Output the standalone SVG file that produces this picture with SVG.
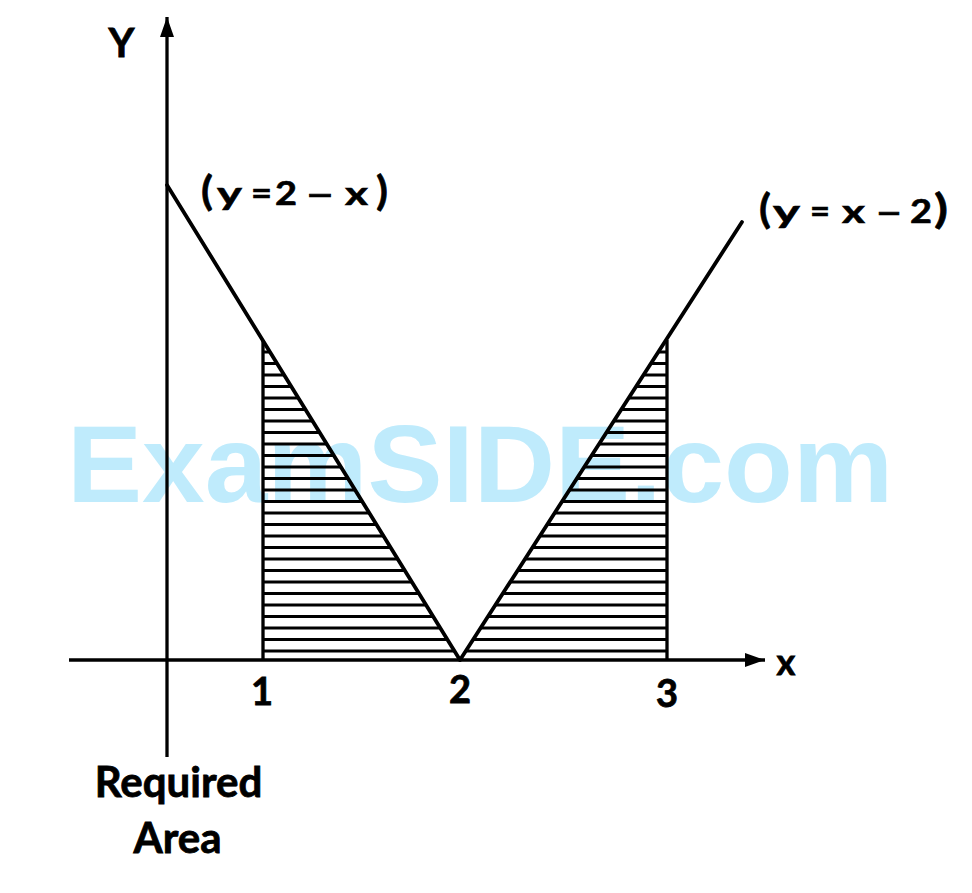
<svg xmlns="http://www.w3.org/2000/svg" width="972" height="893" viewBox="0 0 972 893">
<style>
.lbl{font-family:"Lato","Open Sans","Liberation Sans",sans-serif;font-weight:bold;fill:#000;stroke:#000;stroke-width:0.8}
.eq{font-family:"Lato","Open Sans","Liberation Sans",sans-serif;font-weight:bold;fill:#000;stroke:#000;stroke-width:0.6;font-size:33px}
.par{font-size:41px}
.wm{font-family:"Liberation Sans","Arial",sans-serif;font-weight:bold;fill:#BFEBFC}
.ax{stroke:#000;stroke-width:3.3;fill:none}
.ln{stroke:#000;stroke-width:3.8;fill:none;stroke-linecap:round}
.ht{stroke:#000;stroke-width:3;fill:none}
</style>
<defs>
<marker id="arr" markerWidth="22" markerHeight="14" refX="20" refY="7" orient="auto" markerUnits="userSpaceOnUse">
<path d="M0,0 L20,7 L0,14 Z" fill="#000"/>
</marker>
</defs>
<rect width="972" height="893" fill="#fff"/>
<text class="wm" x="67" y="502" font-size="109" textLength="826" lengthAdjust="spacingAndGlyphs">ExamSIDE.com</text>
<g id="connectors">
<line id="y-axis" class="ax" x1="167" y1="757" x2="167" y2="17" marker-end="url(#arr)"/>
<line id="x-axis" class="ax" x1="69" y1="660" x2="765" y2="660" marker-end="url(#arr)"/>
<line id="line-2-minus-x" class="ln" x1="167" y1="185" x2="460" y2="660"/>
<line id="line-x-minus-2" class="ln" x1="460" y1="660" x2="742" y2="222"/>
<line id="x1" class="ax" x1="263" y1="340" x2="263" y2="660"/>
<line id="x3" class="ax" x1="667" y1="340" x2="667" y2="660"/>
</g>
<g id="hatch-left">
<path class="ht" d="M263,352H270 M263,363.5H277.1 M263,375H284.2 M263,386.5H291.3 M263,398H298.4 M263,409.5H305.5 M263,421H312.6 M263,432.5H319.7 M263,444H326.8 M263,455.5H333.9 M263,467H340.9 M263,478.5H348 M263,490H355.1 M263,501.5H362.2 M263,513H369.3 M263,524.5H376.4 M263,536H383.5 M263,547.5H390.6 M263,559H397.7 M263,570.5H404.8 M263,582H411.9 M263,593.5H419 M263,605H426.1 M263,616.5H433.2 M263,628H440.3 M263,639.5H447.3 M263,651H454.4"/>
</g>
<g id="hatch-right">
<path class="ht" d="M659.2,352H667 M651.8,363.5H667 M644.4,375H667 M636.9,386.5H667 M629.5,398H667 M622,409.5H667 M614.6,421H667 M607.2,432.5H667 M599.7,444H667 M592.3,455.5H667 M584.9,467H667 M577.4,478.5H667 M570,490H667 M562.5,501.5H667 M555.1,513H667 M547.7,524.5H667 M540.2,536H667 M532.8,547.5H667 M525.3,559H667 M517.9,570.5H667 M510.5,582H667 M503,593.5H667 M495.6,605H667 M488.1,616.5H667 M480.7,628H667 M473.3,639.5H667 M465.8,651H667"/>
</g>
<g id="label-Y"><text class="lbl" x="121.5" y="57" font-size="40" text-anchor="middle">Y</text></g>
<g id="label-x"><text class="lbl" x="786" y="675" font-size="36" text-anchor="middle">x</text></g>
<g id="label-1"><text class="lbl" x="262" y="705" font-size="38" text-anchor="middle">1</text></g>
<g id="label-2"><text class="lbl" x="460" y="703" font-size="38" text-anchor="middle">2</text></g>
<g id="label-3"><text class="lbl" x="667" y="707" font-size="38" text-anchor="middle">3</text></g>
<g id="label-eq1">
<text class="eq par" x="201" y="205" textLength="12" lengthAdjust="spacingAndGlyphs">(</text>
<text class="eq" x="217" y="205" textLength="25" lengthAdjust="spacingAndGlyphs">y</text>
<text class="eq" x="251" y="205" textLength="21" lengthAdjust="spacingAndGlyphs">=</text>
<text class="eq" x="275" y="205" textLength="22" lengthAdjust="spacingAndGlyphs">2</text>
<text class="eq" x="305" y="205" textLength="30" lengthAdjust="spacingAndGlyphs">–</text>
<text class="eq" x="345" y="205" textLength="23" lengthAdjust="spacingAndGlyphs">x</text>
<text class="eq par" x="376" y="205" textLength="12" lengthAdjust="spacingAndGlyphs">)</text>
</g>
<g id="label-eq2">
<text class="eq par" x="759" y="223" textLength="12" lengthAdjust="spacingAndGlyphs">(</text>
<text class="eq" x="773" y="223" textLength="27" lengthAdjust="spacingAndGlyphs">y</text>
<text class="eq" x="810" y="223" textLength="20" lengthAdjust="spacingAndGlyphs">=</text>
<text class="eq" x="842" y="223" textLength="23" lengthAdjust="spacingAndGlyphs">x</text>
<text class="eq" x="875" y="223" textLength="28" lengthAdjust="spacingAndGlyphs">–</text>
<text class="eq" x="910" y="223" textLength="22" lengthAdjust="spacingAndGlyphs">2</text>
<text class="eq par" x="934" y="223" textLength="14" lengthAdjust="spacingAndGlyphs">)</text>
</g>
<g id="label-area"><text class="lbl" font-size="42" text-anchor="middle"><tspan x="178.5" y="797">Required</tspan><tspan x="177.5" y="853">Area</tspan></text></g>
</svg>
